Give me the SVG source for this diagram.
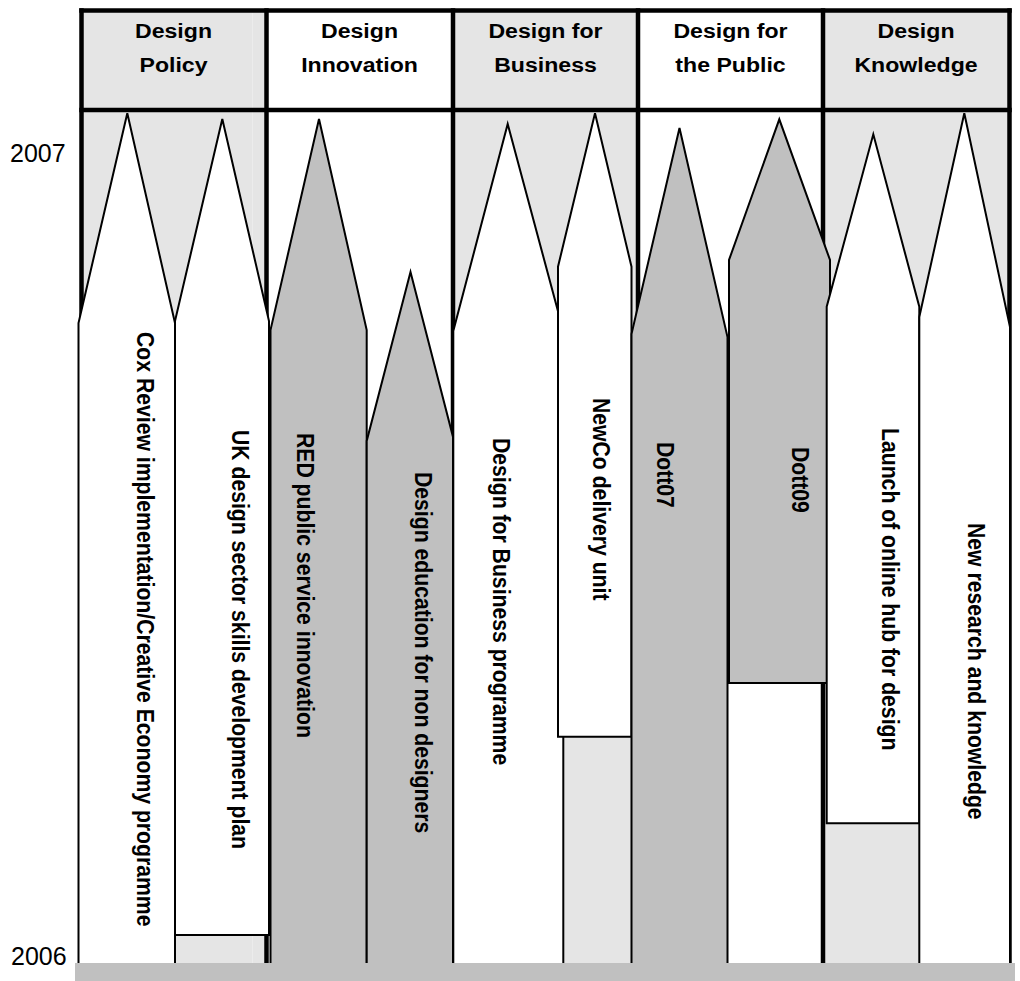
<svg xmlns="http://www.w3.org/2000/svg" width="1020" height="981" viewBox="0 0 1020 981">
<style>
.lg{fill:#e5e5e5}
.wh{fill:#ffffff}
.grid{stroke:#000;stroke-width:4.5;fill:none}
.pw{fill:#ffffff;stroke:#000;stroke-width:2;stroke-linejoin:miter}
.pg{fill:#c0c0c0;stroke:#000;stroke-width:2;stroke-linejoin:miter}
.hdr{font-family:"Liberation Sans",Arial,Helvetica,sans-serif;font-weight:bold;font-size:21px;text-anchor:middle;fill:#000}
.lbl{font-family:"Liberation Sans",Arial,Helvetica,sans-serif;font-weight:bold;font-size:21.2px;fill:#000}
.yr{font-family:"Liberation Sans",Arial,Helvetica,sans-serif;font-size:25px;fill:#000}
</style>
<rect x="0" y="0" width="1020" height="981" fill="#ffffff"/>
<g id="columns">
<rect class="lg" x="81" y="10" width="185.5" height="955"/>
<rect x="252" y="10" width="1" height="955" fill="#ececec"/>
<rect class="wh" x="266.5" y="10" width="186.5" height="955"/>
<rect class="lg" x="453" y="10" width="185" height="955"/>
<rect class="wh" x="638" y="10" width="185" height="955"/>
<rect class="lg" x="823" y="10" width="186.5" height="955"/>
</g>
<g id="grid">
<line class="grid" x1="79.25" y1="10.5" x2="1011.75" y2="10.5"/>
<line class="grid" x1="79.25" y1="110" x2="1011.75" y2="110"/>
<line class="grid" x1="81.5" y1="8.25" x2="81.5" y2="963"/>
<line class="grid" x1="266.5" y1="8.25" x2="266.5" y2="963"/>
<line class="grid" x1="453" y1="8.25" x2="453" y2="963"/>
<line class="grid" x1="638" y1="8.25" x2="638" y2="963"/>
<line class="grid" x1="823" y1="8.25" x2="823" y2="963"/>
<line class="grid" x1="1009.5" y1="8.25" x2="1009.5" y2="963"/>
</g>
<g id="headers">
<text class="hdr" transform="translate(173.5,38) scale(1.1,1)">Design</text>
<text class="hdr" transform="translate(173.5,71.5) scale(1.1,1)">Policy</text>
<text class="hdr" transform="translate(359.5,38) scale(1.1,1)">Design</text>
<text class="hdr" transform="translate(359.5,71.5) scale(1.1,1)">Innovation</text>
<text class="hdr" transform="translate(545.5,38) scale(1.1,1)">Design for</text>
<text class="hdr" transform="translate(545.5,71.5) scale(1.1,1)">Business</text>
<text class="hdr" transform="translate(730.5,38) scale(1.1,1)">Design for</text>
<text class="hdr" transform="translate(730.5,71.5) scale(1.1,1)">the Public</text>
<text class="hdr" transform="translate(916,38) scale(1.1,1)">Design</text>
<text class="hdr" transform="translate(916,71.5) scale(1.1,1)">Knowledge</text>
</g>
<g id="years">
<text class="yr" x="10" y="162">2007</text>
<text class="yr" x="11" y="965">2006</text>
</g>
<g id="cox-review">
<path class="pw" d="M78.5,966 V323 L127.3,113.3 L175,323 V966 Z"/>
<text class="lbl" transform="translate(137,332) rotate(90) scale(1,1.1)">Cox Review implementation/Creative Economy programme</text>
</g>
<g id="uk-design-sector">
<path class="pw" d="M175,935 V321 L222.3,119 L269,321 V935 Z"/>
<text class="lbl" transform="translate(231.7,430) rotate(90) scale(1,1.1)">UK design sector skills development plan</text>
</g>
<g id="red-public-service">
<path class="pg" d="M270.5,966 V330 L319,119 L366.7,330 V966 Z"/>
<text class="lbl" transform="translate(296.7,433) rotate(90) scale(1,1.1)">RED public service innovation</text>
</g>
<g id="design-education">
<path class="pg" d="M366.7,966 V441 L410.5,272 L453,437 V966 Z"/>
<text class="lbl" transform="translate(415,472) rotate(90) scale(1,1.1)">Design education for non designers</text>
</g>
<g id="design-for-business">
<path class="pw" d="M453.3,966 V331 L507.7,124 L563.3,331 V966 Z"/>
<text class="lbl" transform="translate(493.3,438) rotate(90) scale(1,1.1)">Design for Business programme</text>
</g>
<g id="newco">
<path class="pw" d="M558,736.7 V266.7 L595,113.3 L631.5,266.7 V736.7 Z"/>
<text class="lbl" transform="translate(593.3,398) rotate(90) scale(1,1.1)">NewCo delivery unit</text>
</g>
<g id="dott07">
<path class="pg" d="M631.5,966 V334 L679.5,128 L727.5,337 V966 Z"/>
<text class="lbl" transform="translate(656.7,442) rotate(90) scale(1,1.1)">Dott07</text>
</g>
<g id="dott09">
<path class="pg" d="M729,683 V260 L779.3,119.3 L830,260 V683 Z"/>
<text class="lbl" transform="translate(791.7,447) rotate(90) scale(1,1.1)">Dott09</text>
</g>
<g id="online-hub">
<path class="pw" d="M826.7,823.3 V306.7 L873.3,134.3 L919.3,306.7 V823.3 Z"/>
<text class="lbl" transform="translate(881.7,428) rotate(90) scale(1,1.1)">Launch of online hub for design</text>
</g>
<g id="new-research">
<path class="pw" d="M919.3,966 V317 L964.3,113.3 L1010,327 V966 Z"/>
<text class="lbl" transform="translate(968.3,523) rotate(90) scale(1,1.1)">New research and knowledge</text>
</g>
<rect id="timeline-bar" x="75" y="963" width="940" height="18" fill="#c0c0c0"/>
</svg>
